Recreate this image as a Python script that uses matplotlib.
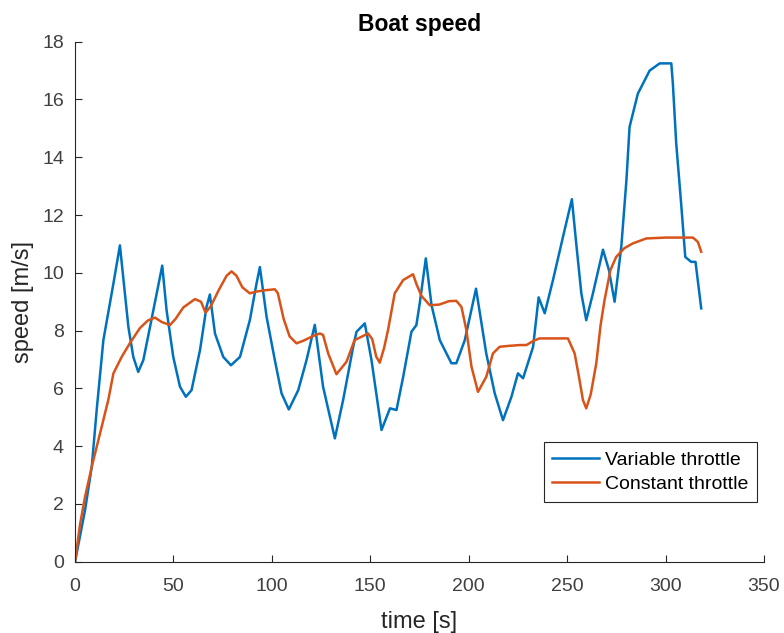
import numpy as np
import matplotlib.pyplot as plt

plt.rcParams['font.family'] = ['Liberation Sans', 'DejaVu Sans']

# speed traces (time [s], speed [m/s])
t_var = [0, 5.1, 8.5, 11.0, 14.4, 19.5, 22.8, 27.1, 29.6, 32.1, 34.7, 38.1, 41.5, 44.3,
         46.5, 49.9, 53.3, 56.3, 59.2, 63.5, 66.8, 68.5, 71.1, 75.3, 79.2, 83.8, 88.8,
         92.2, 93.9, 97.3, 101.5, 104.9, 108.6, 113.4, 117.6, 121.8, 126.0, 132.0, 136.2,
         141.3, 143.0, 147.2, 150.6, 155.7, 160.0, 163.3, 166.7, 170.9, 173.4, 175.1,
         178.2, 181.1, 185.3, 191.2, 193.7, 198.0, 203.7, 208.9, 213.2, 217.4, 221.7,
         225.0, 227.6, 232.7, 235.5, 238.6, 242.8, 247.9, 252.4, 254.6, 257.2, 259.7,
         263.1, 268.2, 271.2, 274.1, 277.5, 280.1, 281.7, 285.9, 291.9, 297.0, 302.9,
         303.7, 305.4, 307.9, 310.0, 313.0, 315.2, 318.1]
v_var = [0, 1.79, 3.29, 5.25, 7.67, 9.63, 10.95, 8.13, 7.09, 6.57, 6.98, 8.13, 9.29, 10.25,
         8.71, 7.09, 6.06, 5.71, 5.94, 7.33, 8.82, 9.25, 7.9, 7.09, 6.8, 7.09, 8.36,
         9.63, 10.2, 8.48, 6.98, 5.83, 5.27, 5.94, 6.98, 8.2, 6.06, 4.27, 5.6,
         7.44, 7.96, 8.25, 6.98, 4.56, 5.31, 5.25, 6.4, 7.96, 8.19, 8.94,
         10.5, 8.88, 7.67, 6.87, 6.87, 7.67, 9.45, 7.21, 5.83, 4.9, 5.71,
         6.52, 6.35, 7.44, 9.15, 8.6, 9.75, 11.25, 12.55, 11.02, 9.29, 8.36,
         9.29, 10.8, 10.1, 9.0, 10.9, 13.2, 15.05, 16.2, 17.0, 17.25, 17.25,
         16.55, 14.48, 12.4, 10.55, 10.38, 10.38, 8.77]

t_const = [0, 2.5, 5.1, 8.5, 12.7, 16.9, 19.5, 23.7, 27.9, 33.0, 37.0, 40.6, 44.0, 48.2,
           51.0, 55.0, 60.9, 64.0, 66.3, 69.0, 73.0, 77.0, 79.5, 82.0, 85.0, 88.8, 92.0,
           97.0, 101.5, 103.0, 106.0, 109.0, 112.5, 116.0, 121.8, 124.4, 126.0, 128.6,
           132.8, 137.9, 142.0, 148.9, 151.0, 153.0, 154.8, 157.0, 159.0, 162.4, 166.7,
           171.7, 173.5, 176.0, 180.2, 185.0, 190.0, 193.7, 196.3, 198.8, 201.4, 204.7,
           208.9, 212.3, 215.7, 220.0, 225.9, 229.3, 233.0, 236.0, 246.0, 250.4, 253.8,
           256.0, 258.0, 259.7, 262.0, 264.8, 267.0, 269.0, 272.0, 274.9, 279.0, 283.4,
           290.2, 300.0, 313.9, 316.4, 318.1]
v_const = [0, 1.27, 2.25, 3.29, 4.44, 5.6, 6.52, 7.09, 7.57, 8.09, 8.35, 8.45, 8.3, 8.19,
           8.4, 8.8, 9.09, 9.0, 8.62, 8.85, 9.4, 9.9, 10.05, 9.9, 9.5, 9.29, 9.35,
           9.4, 9.43, 9.3, 8.4, 7.8, 7.56, 7.65, 7.84, 7.9, 7.85, 7.21,
           6.49, 6.92, 7.67, 7.9, 7.7, 7.1, 6.89, 7.4, 8.02, 9.29, 9.75,
           9.95, 9.6, 9.2, 8.88, 8.9, 9.02, 9.03, 8.82, 8.02, 6.75, 5.88,
           6.4, 7.21, 7.44, 7.47, 7.5, 7.5, 7.65, 7.73, 7.73, 7.73, 7.21,
           6.4, 5.6, 5.31, 5.8, 6.87, 8.2, 9.06, 10.1, 10.55, 10.85, 11.02,
           11.19, 11.22, 11.22, 11.07, 10.73]

fig = plt.figure(figsize=(7.84, 6.33), dpi=100)
ax = fig.add_axes([0.0957, 0.1126, 0.8788, 0.8215])

ax.plot(t_var, v_var, color="#0072BD", linewidth=1.8, label="Variable throttle")
ax.plot(t_const, v_const, color="#D95319", linewidth=1.8, label="Constant throttle")

ax.set_xlim(0, 350)
ax.set_ylim(0, 18)
ax.set_xticks(np.arange(0, 351, 50))
ax.set_yticks(np.arange(0, 19, 2))

for side in ("top", "right"):
    ax.spines[side].set_visible(False)
for side in ("left", "bottom"):
    ax.spines[side].set_color("#262626")
    ax.spines[side].set_linewidth(0.8)
ax.tick_params(direction="in", length=5, width=0.8, colors="#262626",
               labelsize=14, labelcolor="#404040")
ax.tick_params(axis="x", pad=12)
ax.tick_params(axis="y", pad=8)

ax.set_title("Boat speed", fontsize=16.5, fontweight="bold", pad=8)
ax.set_xlabel("time [s]", fontsize=17, color="#262626", labelpad=11)
ax.set_ylabel("speed [m/s]", fontsize=17, color="#262626", labelpad=6)

leg = ax.legend(loc="lower right", bbox_to_anchor=(0.99, 0.115), fontsize=14,
                fancybox=False, framealpha=1, edgecolor="#262626",
                handlelength=2.4, handletextpad=0.3, borderpad=0.45,
                labelspacing=0.35, borderaxespad=0)
leg.get_frame().set_linewidth(0.8)

plt.savefig("out.png", dpi=100)
plt.close(fig)
